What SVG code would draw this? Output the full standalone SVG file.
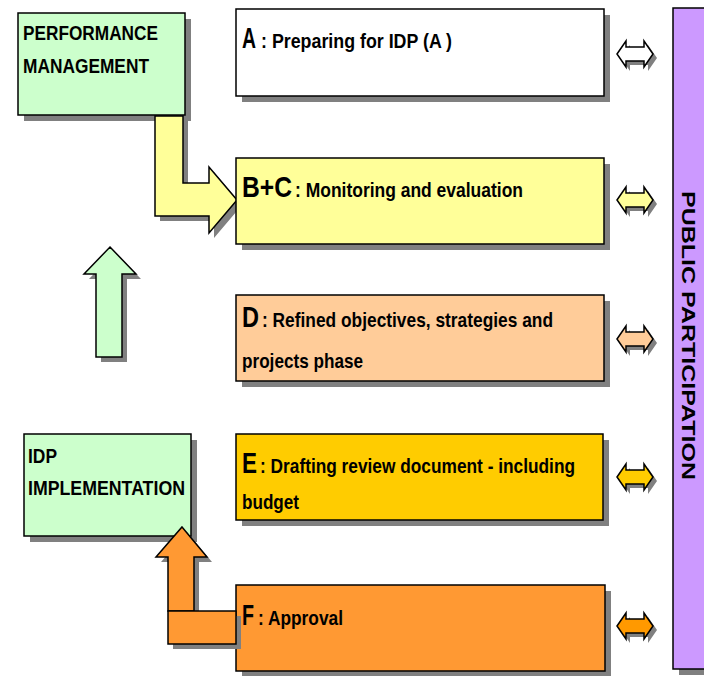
<svg xmlns="http://www.w3.org/2000/svg" width="704" height="676" viewBox="0 0 704 676">
<style>
.box{stroke:#000;stroke-width:1.5}
.sh{fill:#808080}
.ar{stroke:#000;stroke-width:1.5;stroke-linejoin:miter}
.t{font-family:"Liberation Sans",Arial,sans-serif;font-weight:bold;fill:#000}
.big{font-size:30px}
.sm{font-size:21px}
.hd{font-size:20px}
</style>
<defs>
<path id="dbl" d="M0,0 L9,-13 L9,-7 L27,-7 L27,-13 L36,0 L27,13 L27,7 L9,7 L9,13 Z"/>
</defs>
<rect width="704" height="676" fill="#fff"/>

<g id="public-participation">
<rect class="sh" x="679" y="13" width="30" height="662"/>
<rect class="box" x="673" y="8" width="34" height="661" fill="#CC99FF"/>
<text class="t" font-size="18" transform="translate(682,191) rotate(90)" textLength="289" lengthAdjust="spacingAndGlyphs">PUBLIC PARTICIPATION</text>
</g>

<g id="performance-management">
<rect class="sh" x="24" y="19" width="167" height="102"/>
<rect class="box" x="18" y="13" width="167" height="102" fill="#CCFFCC"/>
<text class="t hd" x="23" y="40" textLength="135" lengthAdjust="spacingAndGlyphs">PERFORMANCE</text>
<text class="t hd" x="23" y="73" textLength="126" lengthAdjust="spacingAndGlyphs">MANAGEMENT</text>
</g>

<g id="idp-implementation">
<rect class="sh" x="30" y="440" width="167" height="102"/>
<rect class="box" x="24" y="434" width="167" height="102" fill="#CCFFCC"/>
<text class="t hd" x="28" y="463" textLength="29" lengthAdjust="spacingAndGlyphs">IDP</text>
<text class="t hd" x="28" y="495" textLength="157" lengthAdjust="spacingAndGlyphs">IMPLEMENTATION</text>
</g>

<g id="connectors">
<polygon class="sh" points="160,121 188,121 188,188 214,188 214,172 242,205 214,238 214,221 160,221"/>
<polygon class="ar" fill="#FFFF99" points="155,116 183,116 183,183 209,183 209,167 237,200 209,233 209,216 155,216"/>
<polygon class="sh" points="115,252 141,279 127,279 127,362 101,362 101,279 89,279"/>
<polygon class="ar" fill="#CCFFCC" points="110,247 136,274 122,274 122,357 96,357 96,274 84,274"/>
</g>

<g id="phase-a">
<rect class="sh" x="242" y="15" width="368" height="87"/>
<rect class="box" x="236" y="9" width="368" height="87" fill="#FFFFFF"/>
<text class="t big" x="242" y="48" textLength="14" lengthAdjust="spacingAndGlyphs">A</text>
<text class="t sm" x="261" y="48" textLength="191" lengthAdjust="spacingAndGlyphs">: Preparing for IDP (A  )</text>
</g>

<g id="phase-bc">
<rect class="sh" x="242" y="164" width="368" height="86"/>
<rect class="box" x="236" y="158" width="368" height="86" fill="#FFFF99"/>
<text class="t big" x="242" y="197" textLength="50" lengthAdjust="spacingAndGlyphs">B+C</text>
<text class="t sm" x="295" y="197" textLength="228" lengthAdjust="spacingAndGlyphs">: Monitoring and evaluation</text>
</g>

<g id="phase-d">
<rect class="sh" x="242" y="301" width="368" height="86"/>
<rect class="box" x="236" y="295" width="368" height="86" fill="#FFCC99"/>
<text class="t big" x="242" y="327" textLength="17" lengthAdjust="spacingAndGlyphs">D</text>
<text class="t sm" x="262" y="327" textLength="291" lengthAdjust="spacingAndGlyphs">: Refined objectives, strategies and</text>
<text class="t sm" x="242" y="368" textLength="121" lengthAdjust="spacingAndGlyphs">projects phase</text>
</g>

<g id="phase-e">
<rect class="sh" x="242" y="440" width="367" height="86"/>
<rect class="box" x="236" y="434" width="367" height="86" fill="#FFCC00"/>
<text class="t big" x="242" y="473" textLength="15" lengthAdjust="spacingAndGlyphs">E</text>
<text class="t sm" x="260" y="473" textLength="315" lengthAdjust="spacingAndGlyphs">: Drafting review document - including</text>
<text class="t sm" x="242" y="509" textLength="57" lengthAdjust="spacingAndGlyphs">budget</text>
</g>

<g id="phase-f">
<rect class="sh" x="242" y="591" width="369" height="86"/>
<rect class="box" x="236" y="585" width="369" height="86" fill="#FF9933"/>
<text class="t big" x="242" y="625" textLength="12" lengthAdjust="spacingAndGlyphs">F</text>
<text class="t sm" x="258" y="625" textLength="85" lengthAdjust="spacingAndGlyphs">: Approval</text>
</g>

<g id="connectors-2">
<polygon class="sh" points="187,532 212,562 199,562 199,616 241,616 241,649 173,649 173,562 161,562"/>
<polygon class="ar" fill="#FF9933" points="182,527 207,557 194,557 194,611 168,611 168,557 156,557"/>
<rect class="ar" fill="#FF9933" x="168" y="611" width="68" height="33"/>

<use href="#dbl" class="sh" transform="translate(621,58)"/>
<use href="#dbl" class="ar" fill="#FFFFFF" transform="translate(617,54)"/>
<use href="#dbl" class="sh" transform="translate(621,204)"/>
<use href="#dbl" class="ar" fill="#FFFF99" transform="translate(617,200)"/>
<use href="#dbl" class="sh" transform="translate(621,343)"/>
<use href="#dbl" class="ar" fill="#FFCC99" transform="translate(617,339)"/>
<use href="#dbl" class="sh" transform="translate(621,481)"/>
<use href="#dbl" class="ar" fill="#FFCC00" transform="translate(617,477)"/>
<use href="#dbl" class="sh" transform="translate(621,630)"/>
<use href="#dbl" class="ar" fill="#FF9900" transform="translate(617,626)"/>
</g>
</svg>
